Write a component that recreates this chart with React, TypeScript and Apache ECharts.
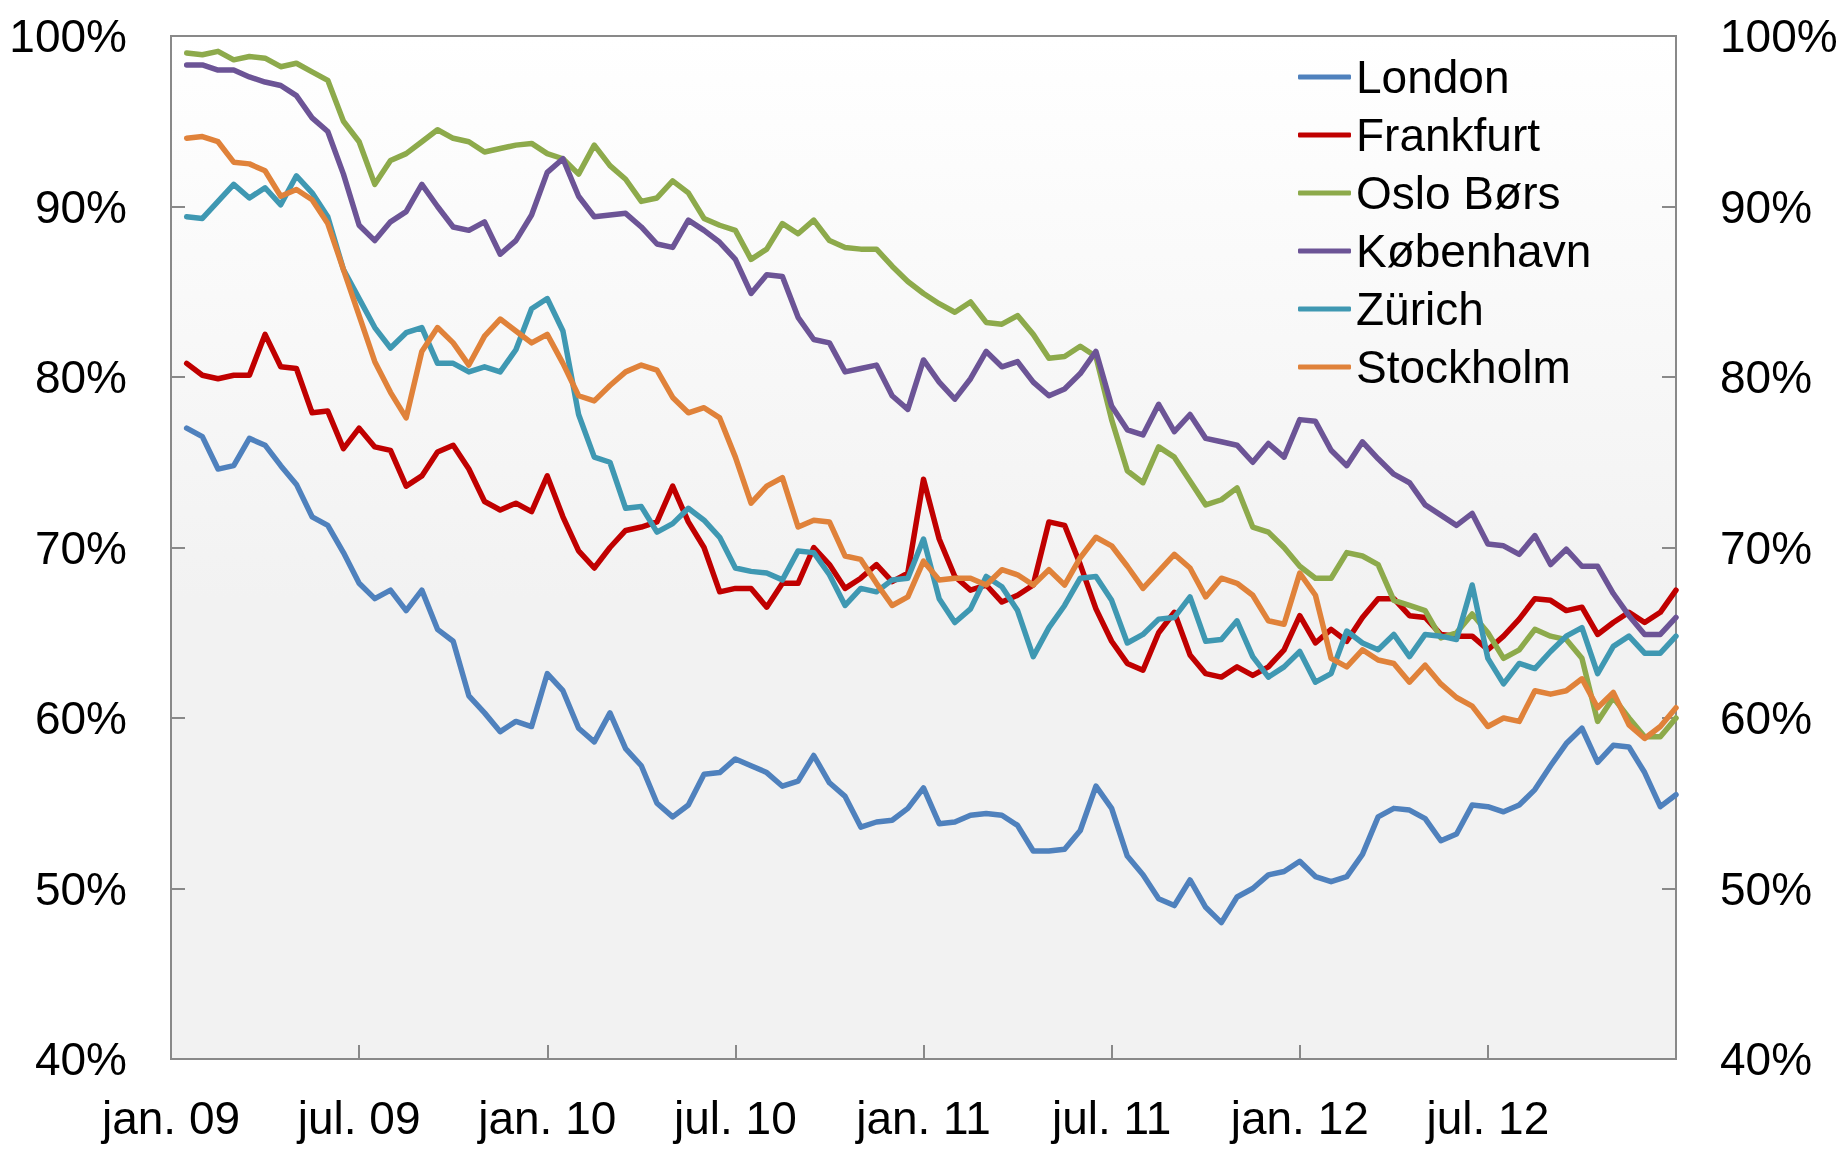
import React, { useEffect, useRef } from "react";
import * as echarts from "echarts";

// x positions: months since January 2009, sampled every half month
const START_MONTH = 0.5;
const STEP_MONTH = 0.5;

const xTickLabels = ["jan. 09", "jul. 09", "jan. 10", "jul. 10", "jan. 11", "jul. 11", "jan. 12", "jul. 12", ""];
const Y_MIN = 40;
const Y_MAX = 100;
const Y_STEP = 10;

const seriesNames = ["London", "Frankfurt", "Oslo Børs", "København", "Zürich", "Stockholm"];
const seriesColors = ["#4F81BD", "#C00000", "#8DAA4B", "#6C5496", "#3F98B2", "#E0823A"];

const london = [
  77.0, 76.5, 74.6, 74.8, 76.4, 76.0, 74.8, 73.7, 71.8, 71.3,
  69.7, 67.9, 67.0, 67.5, 66.3, 67.5, 65.2, 64.5, 61.3, 60.3,
  59.2, 59.8, 59.5, 62.6, 61.6, 59.4, 58.6, 60.3, 58.2, 57.2,
  55.0, 54.2, 54.9, 56.7, 56.8, 57.6, 57.2, 56.8, 56.0, 56.3,
  57.8, 56.2, 55.4, 53.6, 53.9, 54.0, 54.7, 55.9, 53.8, 53.9,
  54.3, 54.4, 54.3, 53.7, 52.2, 52.2, 52.3, 53.4, 56.0, 54.7,
  51.9, 50.8, 49.4, 49.0, 50.5, 48.9, 48.0, 49.5, 50.0, 50.8,
  51.0, 51.6, 50.7, 50.4, 50.7, 52.0, 54.2, 54.7, 54.6, 54.1,
  52.8, 53.2, 54.9, 54.8, 54.5, 54.9, 55.8, 57.2, 58.5, 59.4,
  57.4, 58.4, 58.3, 56.8, 54.8, 55.5,
];

const frankfurt = [
  80.8, 80.1, 79.9, 80.1, 80.1, 82.5, 80.6, 80.5, 77.9, 78.0,
  75.8, 77.0, 75.9, 75.7, 73.6, 74.2, 75.6, 76.0, 74.6, 72.7,
  72.2, 72.6, 72.1, 74.2, 71.8, 69.8, 68.8, 70.0, 71.0, 71.2,
  71.5, 73.6, 71.5, 70.0, 67.4, 67.6, 67.6, 66.5, 67.9, 67.9,
  70.0, 69.0, 67.6, 68.2, 69.0, 68.0, 68.5, 74.0, 70.5, 68.3,
  67.5, 67.8, 66.8, 67.2, 67.8, 71.5, 71.3, 69.0, 66.4, 64.5,
  63.2, 62.8, 65.0, 66.2, 63.7, 62.6, 62.4, 63.0, 62.5, 63.0,
  64.0, 66.0, 64.4, 65.2, 64.5, 65.9, 67.0, 67.0, 66.0, 65.9,
  64.9, 64.8, 64.8, 64.0, 64.8, 65.8, 67.0, 66.9, 66.3, 66.5,
  64.9, 65.6, 66.2, 65.6, 66.2, 67.5,
];

const oslo = [
  99.0, 98.9, 99.1, 98.6, 98.8, 98.7, 98.2, 98.4, 97.9, 97.4,
  95.0, 93.8, 91.3, 92.7, 93.1, 93.8, 94.5, 94.0, 93.8, 93.2,
  93.4, 93.6, 93.7, 93.1, 92.8, 91.9, 93.6, 92.4, 91.6, 90.3,
  90.5, 91.5, 90.8, 89.3, 88.9, 88.6, 86.9, 87.5, 89.0, 88.4,
  89.2, 88.0, 87.6, 87.5, 87.5, 86.5, 85.6, 84.9, 84.3, 83.8,
  84.4, 83.2, 83.1, 83.6, 82.5, 81.1, 81.2, 81.8, 81.2, 77.5,
  74.5, 73.8, 75.9, 75.3, 73.9, 72.5, 72.8, 73.5, 71.2, 70.9,
  70.0, 68.9, 68.2, 68.2, 69.7, 69.5, 69.0, 66.9, 66.6, 66.3,
  64.7, 65.0, 66.1, 65.0, 63.5, 64.0, 65.2, 64.8, 64.6, 63.5,
  59.8, 61.2, 60.0, 58.9, 58.9, 60.0,
];

const kobenhavn = [
  98.3, 98.3, 98.0, 98.0, 97.6, 97.3, 97.1, 96.5, 95.2, 94.4,
  91.9, 88.9, 88.0, 89.1, 89.7, 91.3, 90.0, 88.8, 88.6, 89.1,
  87.2, 88.0, 89.5, 92.0, 92.8, 90.6, 89.4, 89.5, 89.6, 88.8,
  87.8, 87.6, 89.2, 88.6, 87.9, 86.9, 84.9, 86.0, 85.9, 83.5,
  82.2, 82.0, 80.3, 80.5, 80.7, 78.9, 78.1, 81.0, 79.7, 78.7,
  79.9, 81.5, 80.6, 80.9, 79.7, 78.9, 79.3, 80.2, 81.5, 78.3,
  76.9, 76.6, 78.4, 76.8, 77.8, 76.4, 76.2, 76.0, 75.0, 76.1,
  75.3, 77.5, 77.4, 75.7, 74.8, 76.2, 75.2, 74.3, 73.8, 72.5,
  71.9, 71.3, 72.0, 70.2, 70.1, 69.6, 70.7, 69.0, 69.9, 68.9,
  68.9, 67.3, 66.0, 64.9, 64.9, 65.9,
];

const zurich = [
  89.4, 89.3, 90.3, 91.3, 90.5, 91.1, 90.1, 91.8, 90.8, 89.4,
  86.3, 84.6, 82.9, 81.7, 82.6, 82.9, 80.8, 80.8, 80.3, 80.6,
  80.3, 81.6, 84.0, 84.6, 82.7, 77.8, 75.3, 75.0, 72.3, 72.4,
  70.9, 71.4, 72.3, 71.6, 70.6, 68.8, 68.6, 68.5, 68.1, 69.8,
  69.7, 68.4, 66.6, 67.6, 67.4, 68.1, 68.2, 70.5, 67.0, 65.6,
  66.4, 68.3, 67.7, 66.3, 63.6, 65.3, 66.6, 68.2, 68.3, 66.9,
  64.4, 64.9, 65.8, 65.9, 67.1, 64.5, 64.6, 65.7, 63.6, 62.4,
  63.0, 63.9, 62.1, 62.6, 65.1, 64.4, 64.0, 64.9, 63.6, 64.9,
  64.8, 64.6, 67.8, 63.5, 62.0, 63.2, 62.9, 63.9, 64.8, 65.3,
  62.6, 64.2, 64.8, 63.8, 63.8, 64.8,
];

const stockholm = [
  94.0, 94.1, 93.8, 92.6, 92.5, 92.1, 90.6, 91.0, 90.4, 89.0,
  86.3, 83.6, 80.9, 79.1, 77.6, 81.5, 82.9, 82.0, 80.7, 82.4,
  83.4, 82.7, 82.0, 82.5, 80.8, 78.9, 78.6, 79.5, 80.3, 80.7,
  80.4, 78.8, 77.9, 78.2, 77.6, 75.3, 72.6, 73.6, 74.1, 71.2,
  71.6, 71.5, 69.5, 69.3, 67.9, 66.6, 67.1, 69.2, 68.1, 68.2,
  68.2, 67.8, 68.7, 68.4, 67.8, 68.7, 67.8, 69.4, 70.6, 70.1,
  68.9, 67.6, 68.6, 69.6, 68.8, 67.1, 68.2, 67.9, 67.2, 65.7,
  65.5, 68.5, 67.2, 63.5, 63.0, 64.0, 63.4, 63.2, 62.1, 63.1,
  62.0, 61.2, 60.7, 59.5, 60.0, 59.8, 61.6, 61.4, 61.6, 62.3,
  60.6, 61.5, 59.6, 58.8, 59.5, 60.6,
];

const seriesValues = [london, frankfurt, oslo, kobenhavn, zurich, stockholm];

export default function App() {
  const ref = useRef<HTMLDivElement>(null);

  useEffect(() => {
    if (!ref.current) return;
    const chart = echarts.init(ref.current, null, { renderer: "svg" });
    const font = "'Liberation Sans', Arial, Helvetica, sans-serif";
    const axisColor = "#898989";
    const toPoints = (vals: number[]) => vals.map((v, i) => [START_MONTH + i * STEP_MONTH, v]);

    const yAxisBase = (position: "left" | "right") => ({
      type: "value",
      position,
      min: Y_MIN,
      max: Y_MAX,
      interval: Y_STEP,
      axisLine: { show: true, lineStyle: { color: axisColor, width: 2 } },
      axisTick: { show: true, inside: true, length: 14, lineStyle: { color: axisColor, width: 2 } },
      splitLine: { show: false },
      axisLabel: {
        formatter: "{value}%",
        fontSize: 46,
        color: "#000",
        margin: 44,
        fontFamily: font,
      },
    });

    chart.setOption({
      animation: false,
      textStyle: { fontFamily: font },
      grid: {
        left: 171,
        right: 169,
        top: 36,
        bottom: 94,
        show: true,
        borderColor: axisColor,
        borderWidth: 2,
        backgroundColor: new echarts.graphic.LinearGradient(0, 0, 0, 1, [
          { offset: 0, color: "#ffffff" },
          { offset: 0.55, color: "#f2f2f2" },
          { offset: 1, color: "#f2f2f2" },
        ]),
      },
      xAxis: {
        type: "value",
        min: 0,
        max: 48,
        interval: 6,
        axisLine: { show: true, lineStyle: { color: axisColor, width: 2 } },
        axisTick: { show: true, inside: true, length: 14, lineStyle: { color: axisColor, width: 2 } },
        splitLine: { show: false },
        axisLabel: {
          formatter: (v: number) => xTickLabels[Math.round(v / 6)] ?? "",
          fontSize: 46,
          color: "#000",
          margin: 36,
          fontFamily: font,
          showMaxLabel: true,
          showMinLabel: true,
        },
      },
      yAxis: [yAxisBase("left"), yAxisBase("right")],
      legend: {
        orient: "vertical",
        left: 1293,
        top: 49,
        padding: 5,
        itemWidth: 53,
        itemHeight: 5,
        itemGap: 12,
        icon: "roundRect",
        textStyle: { fontSize: 46, lineHeight: 46, color: "#000", fontFamily: font },
        data: seriesNames,
      },
      series: seriesNames.map((name, i) => ({
        name,
        type: "line",
        yAxisIndex: 0,
        data: toPoints(seriesValues[i]),
        showSymbol: false,
        symbol: "none",
        smooth: false,
        color: seriesColors[i],
        lineStyle: { width: 5.5, color: seriesColors[i], join: "round", cap: "round" },
        emphasis: { disabled: true },
      })),
    });

    return () => chart.dispose();
  }, []);

  return (
    <div
      ref={ref}
      style={{ position: "fixed", left: 0, top: 0, width: 1845, height: 1153 }}
    />
  );
}
